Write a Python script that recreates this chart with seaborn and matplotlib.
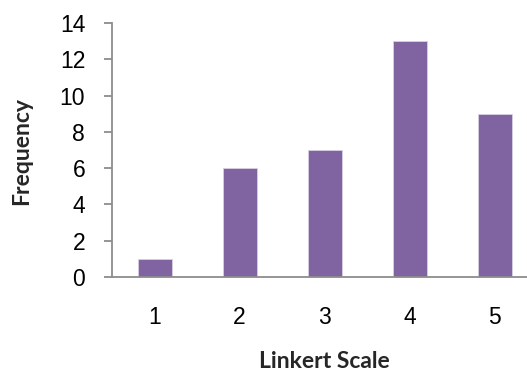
import matplotlib
matplotlib.use("Agg")
import matplotlib.pyplot as plt
import seaborn as sns
import pandas as pd

# Survey responses on a five-point scale
scale = ["1", "2", "3", "4", "5"]
frequency = [1, 6, 7, 13, 9]
y_ticks = [0, 2, 4, 6, 8, 10, 12, 14]

df = pd.DataFrame({"scale": scale, "frequency": frequency})

sns.set_theme(style="white")
plt.rcParams["font.family"] = ["Liberation Sans", "DejaVu Sans"]

fig = plt.figure(figsize=(5.27, 3.86), dpi=100)
ax = fig.add_axes([112 / 527, 109 / 386, 425 / 527, 254 / 386])

sns.barplot(data=df, x="scale", y="frequency", color="#8064A2",
            saturation=1, width=0.4, edgecolor="#d8d0e4", linewidth=0.6,
            ax=ax)

ax.set_xlim(-0.5, 4.5)
ax.set_ylim(0, 14)
ax.set_yticks(y_ticks)
ax.set_yticklabels([str(t) for t in y_ticks])

axis_grey = "#8c8c8c"
for side in ("top", "right"):
    ax.spines[side].set_visible(False)
for side in ("left", "bottom"):
    ax.spines[side].set_color(axis_grey)
    ax.spines[side].set_linewidth(1.3)

ax.tick_params(axis="y", which="major", left=True, length=5.8, width=1.3,
               color=axis_grey, pad=13.5, labelsize=16.5, labelcolor="black")
ax.tick_params(axis="x", which="major", bottom=False, length=0, pad=21,
               labelsize=16.5, labelcolor="black")

label_font = dict(fontsize=16.5, fontweight="bold", family=["Lato", "DejaVu Sans"])
ax.set_xlabel("Linkert Scale", **label_font)
ax.set_ylabel("Frequency", **label_font)
ax.xaxis.label.set_va("baseline")
ax.xaxis.set_label_coords(324 / 527, 1 - 368 / 386, transform=fig.transFigure)
ax.yaxis.label.set_va("center")
ax.yaxis.set_label_coords(22 / 527, 1 - 151 / 386, transform=fig.transFigure)

fig.savefig("out.png", dpi=100, facecolor="white")
